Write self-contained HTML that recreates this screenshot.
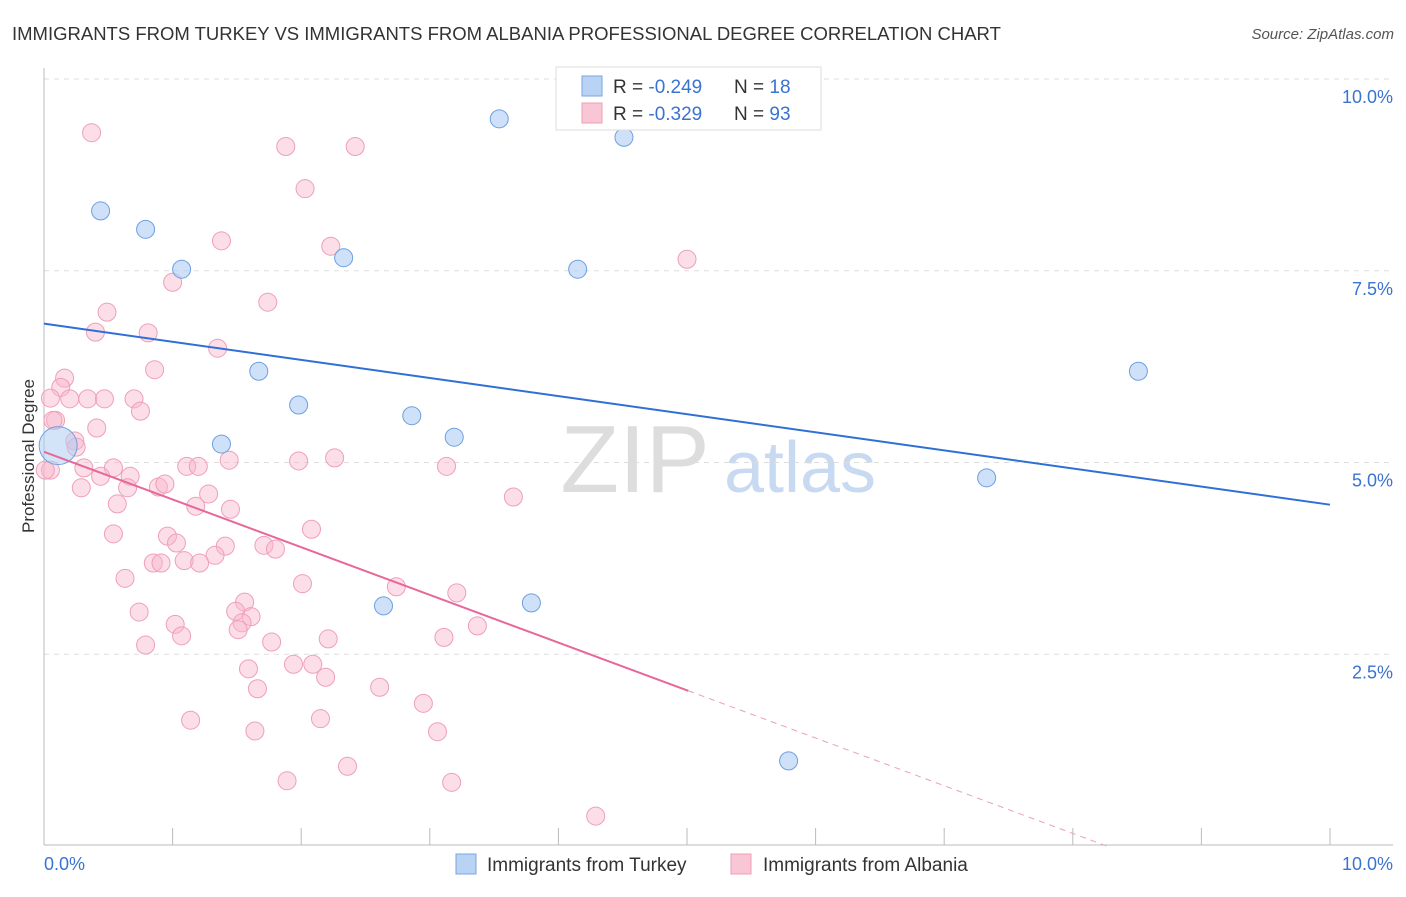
<!DOCTYPE html>
<html><head><meta charset="utf-8"><style>
body{margin:0;background:#fff;font-family:"Liberation Sans",sans-serif;}
svg text{font-family:"Liberation Sans",sans-serif;}
</style></head><body>
<svg id="chart" width="1406" height="892">
<text x="12" y="40" font-size="18.5" fill="#333">IMMIGRANTS FROM TURKEY VS IMMIGRANTS FROM ALBANIA PROFESSIONAL DEGREE CORRELATION CHART</text>
<text x="1394" y="39" font-size="15" fill="#555" font-style="italic" text-anchor="end">Source: ZipAtlas.com</text>
<text x="635" y="492" font-size="96" fill="#ddd" text-anchor="middle" font-family="Liberation Serif">ZIP</text>
<text x="800" y="492" font-size="72" fill="#c8daf2" text-anchor="middle">atlas</text>
<g id="grid"></g>
<g id="axes"></g>
<g id="points"></g>
<g id="lines"></g>
<text transform="translate(34,456) rotate(-90)" font-size="17" fill="#333" text-anchor="middle">Professional Degree</text>
<g>
<rect x="556" y="67" width="265" height="63" fill="#fff" stroke="#ddd"/>
<rect x="582" y="76" width="20" height="20" fill="#b9d3f5" stroke="#7aa6e0"/>
<rect x="582" y="103" width="20" height="20" fill="#f9c6d5" stroke="#ee9fb8"/>
<text x="613" y="93" font-size="19" fill="#333">R = <tspan fill="#3a73d0">-0.249</tspan><tspan x="734">N = </tspan><tspan fill="#3a73d0">18</tspan></text>
<text x="613" y="120" font-size="19" fill="#333">R = <tspan fill="#3a73d0">-0.329</tspan><tspan x="734">N = </tspan><tspan fill="#3a73d0">93</tspan></text>
</g>
<g>
<rect x="456" y="854" width="20" height="20" fill="#b9d3f5" stroke="#7aa6e0"/>
<text x="487" y="871" font-size="19" fill="#333">Immigrants from Turkey</text>
<rect x="731" y="854" width="20" height="20" fill="#f9c6d5" stroke="#ee9fb8"/>
<text x="763" y="871" font-size="19" fill="#333">Immigrants from Albania</text>
</g>
</svg>
<script>
const yTicks=[2.5,5.0,7.5,10.0];
const xTickVals=[0,1,2,3,4,5,6,7,8,9,10];
const turkeyX=[0.44,0.79,1.07,2.33,3.54,4.51,4.15,1.67,1.98,2.86,3.19,1.38,8.51,7.33,2.64,3.79,5.79];
const turkeyY=[8.28,8.04,7.52,7.67,9.48,9.24,7.52,6.19,5.75,5.61,5.33,5.24,6.19,4.80,3.13,3.17,1.11];
const turkeyBigX=[0.11];const turkeyBigY=[5.22];
const albaniaX=[0.37,1.88,2.42,2.03,1.38,2.23,5.00,1.00,1.74,0.49,0.40,0.81,1.35,0.86,0.16,0.13,0.05,0.20,0.34,0.47,0.70,0.75,0.09,0.41,0.24,0.25,0.05,0.31,0.54,0.44,0.67,0.89,0.94,0.29,0.65,0.57,1.28,1.11,1.20,1.44,1.98,2.26,3.13,3.65,1.18,1.45,2.08,0.54,0.96,1.03,1.71,1.80,1.41,1.33,0.85,0.91,1.09,1.21,0.63,2.01,2.74,3.21,0.74,1.56,1.49,1.61,1.54,1.02,1.07,1.51,1.77,2.21,3.11,3.37,0.79,1.59,1.94,2.09,2.19,1.66,2.61,2.95,1.14,2.15,1.64,3.06,2.36,1.89,3.17,4.29,0.01,0.07];
const albaniaY=[9.30,9.12,9.12,8.57,7.89,7.82,7.65,7.35,7.09,6.96,6.70,6.69,6.49,6.21,6.10,5.98,5.84,5.83,5.83,5.83,5.83,5.67,5.55,5.45,5.28,5.20,4.90,4.93,4.93,4.82,4.82,4.68,4.72,4.67,4.67,4.46,4.59,4.95,4.95,5.03,5.02,5.06,4.95,4.55,4.43,4.39,4.13,4.07,4.04,3.95,3.92,3.87,3.91,3.79,3.69,3.69,3.72,3.69,3.49,3.42,3.38,3.30,3.05,3.18,3.06,2.99,2.91,2.89,2.74,2.82,2.66,2.70,2.72,2.87,2.62,2.31,2.37,2.37,2.20,2.05,2.07,1.86,1.64,1.66,1.50,1.49,1.04,0.85,0.83,0.39,4.90,5.55];
const turkeyTrend=[6.81,4.45];
const albaniaTrend=[5.14,-0.622];
const NS="http://www.w3.org/2000/svg";
const X=v=>44+v*128.6, Y=v=>846-v*76.7;
function mk(tag,parent,attrs){const e=document.createElementNS(NS,tag);for(const k in attrs)e.setAttribute(k,attrs[k]);document.getElementById(parent).appendChild(e);return e;}
yTicks.forEach(t=>{
 const l=mk('line','grid',{x1:44,x2:1393,y1:Y(t),y2:Y(t),stroke:'#ddd','stroke-dasharray':'5,5'});
 
 
 const tx=mk('text','grid',{x:1393,y:Y(t)+24,'font-size':18,fill:'#3a73d0','text-anchor':'end'});
 tx.textContent=t.toFixed(1)+'%';
 
 
});
const ax=mk('line','axes',{x1:44,x2:1393,y1:845,y2:845,stroke:'#bbb'});


const ay=mk('line','axes',{x1:44,x2:44,y1:68,y2:845,stroke:'#bbb'});


xTickVals.forEach(t=>{
 const l=mk('line','axes',{x1:X(t),x2:X(t),y1:828,y2:845,stroke:'#bbb'});
 
 
});
const xl0=mk('text','axes',{x:44,y:870,'font-size':18,fill:'#3a73d0'});xl0.textContent='0.0%';


const xl1=mk('text','axes',{x:1393,y:870,'font-size':18,fill:'#3a73d0','text-anchor':'end'});xl1.textContent='10.0%';


albaniaX.forEach((v,i)=>{
 const c=mk('circle','points',{cx:X(v),cy:Y(albaniaY[i]),r:9,fill:'rgba(248,182,203,0.45)',stroke:'#ef9fb8','stroke-width':1});
 
 
});
turkeyX.forEach((v,i)=>{
 const c=mk('circle','points',{cx:X(v),cy:Y(turkeyY[i]),r:9,fill:'rgba(175,205,243,0.6)',stroke:'#6d9fe0','stroke-width':1});
 
 
});
turkeyBigX.forEach((v,i)=>{
 const c=mk('circle','points',{cx:X(v),cy:Y(turkeyBigY[i]),r:19,fill:'rgba(175,205,243,0.55)',stroke:'#6d9fe0','stroke-width':1});
 
 
});
const tl=mk('line','lines',{x1:X(0),y1:Y(turkeyTrend[0]),x2:X(10),y2:Y(turkeyTrend[1]),stroke:'#2f6fd6','stroke-width':2});


const af=x=>albaniaTrend[0]+albaniaTrend[1]*x;
const al=mk('line','lines',{x1:X(0),y1:Y(af(0)),x2:X(5.01),y2:Y(af(5.01)),stroke:'#e8679a','stroke-width':2});


const xe=-albaniaTrend[0]/albaniaTrend[1];
const ad=mk('line','lines',{x1:X(5.01),y1:Y(af(5.01)),x2:X(xe),y2:Y(0),stroke:'#e8a0bb','stroke-width':1,'stroke-dasharray':'6,5'});


</script>
</body></html>
